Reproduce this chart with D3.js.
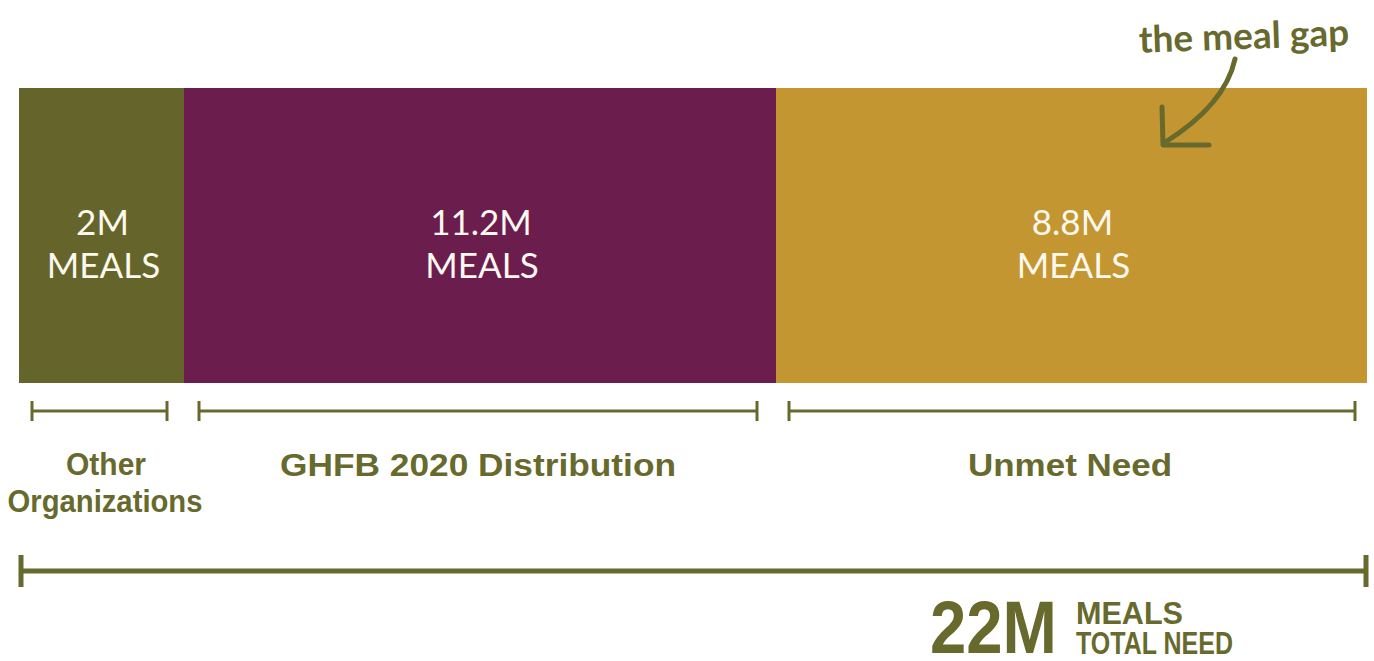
<!DOCTYPE html>
<html><head><meta charset="utf-8">
<script src="https://cdn.jsdelivr.net/npm/d3@7"></script>
<style>html,body{margin:0;padding:0;background:#fff;}svg{display:block;}</style>
</head><body>
<script>
const categories = ["Other Organizations", "GHFB 2020 Distribution", "Unmet Need"];
const values = [2, 11.2, 8.8];
const valueLabels = ["2M", "11.2M", "8.8M"];
const unitLabel = "MEALS";
const totalValue = 22;
const totalLabel = "22M";
const totalSub = ["MEALS", "TOTAL NEED"];
const annotation = "the meal gap";
const colors = ["#65652b", "#6b1d4d", "#c49632"];
const textColor = "#676a2c";

const W = 1374, H = 661;
const svg = d3.select("body").append("svg").attr("width", W).attr("height", H);

let acc = 0;
const data = values.map((v, i) => { const d = {cat: categories[i], v, x0: acc, x1: acc + v, label: valueLabels[i], color: colors[i]}; acc += v; return d; });

// piecewise linear scale (segments in the original are not drawn to scale)
const x = d3.scaleLinear()
  .domain([0, data[0].x1, data[1].x1, totalValue])
  .range([19, 184, 776, 1367]);
const barTop = 88, barBottom = 383;
const mid = d => (x(d.x0) + x(d.x1)) / 2;

svg.selectAll("rect.seg").data(data).join("rect")
  .attr("class", "seg")
  .attr("x", d => x(d.x0)).attr("y", barTop)
  .attr("width", d => x(d.x1) - x(d.x0)).attr("height", barBottom - barTop)
  .attr("fill", d => d.color);

const inFont = "Lato, 'Open Sans', sans-serif";
const g = svg.selectAll("g.lab").data(data).join("g").attr("class", "lab");
g.append("text").attr("x", d => mid(d) + 1).attr("y", 235)
  .attr("text-anchor", "middle").attr("fill", "#fbf8ee").attr("font-family", inFont)
  .attr("font-size", 35).text(d => d.label);
g.append("text").attr("x", d => mid(d) + 2).attr("y", 278)
  .attr("text-anchor", "middle").attr("fill", "#fbf8ee").attr("font-family", inFont)
  .attr("font-size", 35).text(unitLabel);

// brackets
const bY = 411, inset = [13, 15, 13], insetR = [17, 19, 12];
data.forEach((d, i) => {
  const a = x(d.x0) + inset[i], b = x(d.x1) - insetR[i];
  const br = svg.append("g").attr("stroke", textColor).attr("stroke-width", 3);
  br.append("line").attr("x1", a).attr("x2", b).attr("y1", bY).attr("y2", bY);
  br.append("line").attr("x1", a).attr("x2", a).attr("y1", bY - 10).attr("y2", bY + 10);
  br.append("line").attr("x1", b).attr("x2", b).attr("y1", bY - 10).attr("y2", bY + 10);
});

const labFont = "'Liberation Sans', Arial, sans-serif";
// category labels
const catLines = [
  [{t: "Other", cx: 106, y: 475, w: 80}, {t: "Organizations", cx: 105, y: 512, w: 195}],
  [{t: categories[1], cx: 478, y: 476, w: 396}],
  [{t: categories[2], cx: 1070, y: 476, w: 204}]
];
catLines.forEach(lines => lines.forEach(l => {
  svg.append("text").attr("x", l.cx - l.w / 2).attr("y", l.y)
    .attr("fill", textColor).attr("font-family", labFont).attr("font-weight", "bold")
    .attr("font-size", 32).attr("textLength", l.w).attr("lengthAdjust", "spacingAndGlyphs").text(l.t);
}));

// total bracket
const tY = 571;
const tb = svg.append("g").attr("stroke", textColor).attr("stroke-width", 5);
tb.append("line").attr("x1", x(0) + 2).attr("x2", x(totalValue) - 1).attr("y1", tY).attr("y2", tY);
tb.append("line").attr("x1", x(0) + 2).attr("x2", x(0) + 2).attr("y1", tY - 16).attr("y2", tY + 16);
tb.append("line").attr("x1", x(totalValue) - 1).attr("x2", x(totalValue) - 1).attr("y1", tY - 16).attr("y2", tY + 16);

// total label
svg.append("text").attr("x", 930).attr("y", 653).attr("fill", textColor)
  .attr("font-family", labFont).attr("font-weight", "bold")
  .attr("font-size", 75).attr("textLength", 127).attr("lengthAdjust", "spacingAndGlyphs").text(totalLabel);
const subW = [107, 157];
totalSub.forEach((t, i) => {
  svg.append("text").attr("x", 1076).attr("y", 624 + i * 30).attr("fill", textColor)
    .attr("font-family", labFont).attr("font-weight", "bold")
    .attr("font-size", 31).attr("textLength", subW[i]).attr("lengthAdjust", "spacingAndGlyphs").text(t);
});

// annotation
svg.append("text").attr("x", 1244).attr("y", 49).attr("text-anchor", "middle")
  .attr("transform", "rotate(-2 1244 40)")
  .attr("fill", textColor).attr("font-family", inFont).attr("font-weight", "bold")
  .attr("font-size", 37).text(annotation);
svg.append("path").attr("d", "M1235,59 Q1225,105 1164,143").attr("fill", "none")
  .attr("stroke", textColor).attr("stroke-width", 5).attr("stroke-linecap", "round");
svg.append("path").attr("d", "M1162,107 L1163,145 L1209,145").attr("fill", "none")
  .attr("stroke", textColor).attr("stroke-width", 5).attr("stroke-linecap", "round").attr("stroke-linejoin", "round");
</script>
</body></html>
